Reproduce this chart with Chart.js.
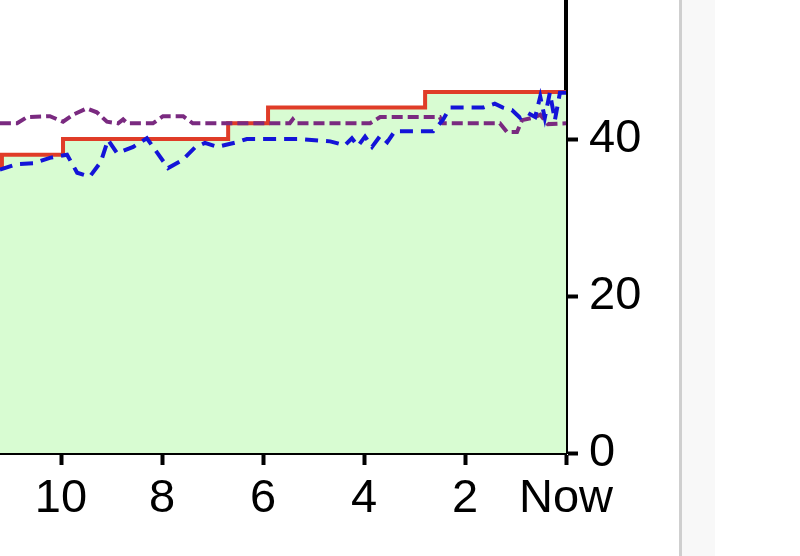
<!DOCTYPE html>
<html>
<head>
<meta charset="utf-8">
<script src="https://cdn.jsdelivr.net/npm/chart.js@4"></script>
<style>
  body { margin: 0; background: #fff; overflow: hidden; width: 800px; height: 556px; position: relative; }
  #wrap { position: absolute; left: 0; top: -58px; width: 646px; height: 611px; }
  #sep { position: absolute; left: 679px; top: 0; width: 3px; height: 556px; background: #cfcfcf; }
  #side { position: absolute; left: 682px; top: 0; width: 33px; height: 556px; background: #f8f8f8; }
</style>
</head>
<body>
<div id="wrap"><canvas id="chart"></canvas></div>
<div id="sep"></div>
<div id="side"></div>
<script>
// hours before now (negative) and values
const redX = [-11.21, -11.17, -9.96, -6.69, -5.90, -2.79, 0];
const redY = [36.5, 38, 40, 42, 44, 46, 46];

const blueX = [-11.21, -10.87, -10.55, -10.22, -9.88, -9.68, -9.43, -9.21, -9.07, -8.89, -8.57, -8.30,
    -8.10, -7.88, -7.60, -7.35, -7.15, -6.91, -6.51, -6.32, -5.27, -4.67, -4.38, -4.24, -4.12, -3.98,
    -3.84, -3.68, -3.54, -3.39, -2.63, -2.44, -2.30, -1.64, -1.41, -1.25, -1.07, -0.91, -0.75, -0.61,
    -0.51, -0.42, -0.32, -0.22, -0.12, 0];
const blueY = [36.1, 36.8, 36.9, 37.6, 38.0, 35.7, 35.2, 37.1, 39.9, 38.2, 39.0, 40.1,
    38.3, 36.3, 37.3, 38.9, 39.5, 39.0, 39.6, 40.0, 40.0, 39.7, 39.2, 40.1, 39.1, 40.3,
    39.0, 40.4, 39.6, 41.0, 41.0, 42.4, 44.0, 44.0, 44.5, 44.0, 43.7, 42.7, 43.3, 42.8,
    45.4, 42.7, 45.9, 42.4, 45.9, 45.9];

const purpleX = [-11.21, -10.87, -10.67, -10.22, -9.96, -9.76, -9.49, -9.29, -9.09, -8.87, -8.77, -8.69,
    -8.18, -7.98, -7.58, -7.39, -5.47, -5.41, -5.35, -3.88, -3.68, -2.50, -2.44, -1.31, -1.17, -0.97,
    -0.87, -0.65, -0.51, -0.36, 0];
const purpleY = [42.0, 42.0, 42.8, 42.9, 42.2, 43.1, 43.9, 43.4, 42.2, 42.0, 42.5, 42.0,
    42.0, 42.9, 42.9, 42.0, 42.0, 42.5, 42.0, 42.0, 42.8, 42.8, 42.0, 42.0, 40.9, 40.9,
    42.4, 42.7, 43.1, 41.9, 42.0];

const xTickValues = [-10, -8, -6, -4, -2, 0];
const xTickLabels = ['10', '8', '6', '4', '2', 'Now'];
const yTickValues = [0, 20, 40, 60];

const xMin = -11.208;
const yMax = 60;

function pts(xs, ys) {
    return xs.map((x, i) => ({ x: x, y: ys[i] }));
}

const tickFont = { family: "'Liberation Sans', Arial, sans-serif", size: 47 };

new Chart(document.getElementById('chart'), {
    type: 'line',
    data: {
        datasets: [
            {
                label: 'blue',
                data: pts(blueX, blueY),
                borderColor: '#1414d8',
                borderWidth: 4,
                borderDash: [13, 8],
                pointRadius: 0,
                fill: false
            },
            {
                label: 'purple',
                data: pts(purpleX, purpleY),
                borderColor: '#7a2a80',
                borderWidth: 4,
                borderDash: [11, 5],
                pointRadius: 0,
                fill: false
            },
            {
                label: 'red',
                data: pts(redX, redY),
                borderColor: '#e03c28',
                borderWidth: 4,
                stepped: 'before',
                pointRadius: 0,
                fill: 'origin',
                backgroundColor: 'rgb(216, 252, 210)'
            }
        ]
    },
    options: {
        responsive: true,
        maintainAspectRatio: false,
        animation: false,
        layout: { padding: { top: 40, left: 0, right: 0, bottom: 0 } },
        plugins: {
            legend: { display: false },
            tooltip: { enabled: false }
        },
        scales: {
            x: {
                type: 'linear',
                min: xMin,
                max: 0,
                afterBuildTicks: s => { s.ticks = xTickValues.map(v => ({ value: v })); },
                afterFit: s => { s.height = 100; s.paddingLeft = 0; s.paddingRight = 0; },
                ticks: {
                    color: '#000',
                    font: tickFont,
                    padding: 6,
                    maxRotation: 0,
                    autoSkip: false,
                    callback: (v) => xTickLabels[xTickValues.indexOf(v)]
                },
                grid: { drawOnChartArea: false, tickLength: 12, tickColor: '#000', tickWidth: 4 },
                border: { color: '#000', width: 4 }
            },
            y: {
                position: 'right',
                min: 0,
                max: yMax,
                afterBuildTicks: s => { s.ticks = yTickValues.map(v => ({ value: v })); },
                afterFit: s => { s.width = 80; s.paddingTop = 0; s.paddingBottom = 0; },
                ticks: { color: '#000', font: tickFont, padding: 11 },
                grid: { drawOnChartArea: false, tickLength: 12, tickColor: '#000', tickWidth: 4 },
                border: { color: '#000', width: 4 }
            }
        }
    }
});
</script>
</body>
</html>
